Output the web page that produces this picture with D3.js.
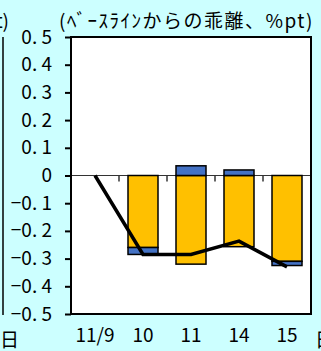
<!DOCTYPE html>
<html>
<head>
<meta charset="utf-8">
<script src="https://cdn.jsdelivr.net/npm/d3@7"></script>
<style>
  html, body { margin: 0; padding: 0; background: #ccffff; }
  svg { display: block; }
  text { font-family: "Noto Sans CJK JP", "Noto Sans", sans-serif; fill: #000; }
</style>
</head>
<body>
<svg id="chart" width="321" height="351"></svg>
<script>
// Deviation from baseline by day (%pt)
const days = ["11/9", "10", "11", "14", "15"];
const orangeValues = [0, -0.26, -0.32, -0.257, -0.31];
const blueValues = [0, -0.025, 0.035, 0.02, -0.015];
const totalValues = [0, -0.285, -0.285, -0.237, -0.33];
const yTicks = [0.5, 0.4, 0.3, 0.2, 0.1, 0, -0.1, -0.2, -0.3, -0.4, -0.5];
const yTickLabels = ["0. 5", "0. 4", "0. 3", "0. 2", "0. 1", "0", "−0. 1", "−0. 2", "−0. 3", "−0. 4", "−0. 5"];
const unitLabel = "(ﾍﾞｰｽﾗｲﾝからの乖離、%pt)";

const svg = d3.select("#chart");
const plot = { left: 71, right: 311, top: 37, bottom: 314 };

const x = d3.scaleBand().domain(days).range([plot.left, plot.right]).paddingInner(0).paddingOuter(0);
const y = d3.scaleLinear().domain([-0.5, 0.5]).range([plot.bottom, plot.top]);

// Pieces of the neighbouring panel at the left and right edges
svg.append("text").attr("x", 9).attr("y", 28).attr("text-anchor", "end")
  .attr("font-size", 19).text("t)");
svg.append("line").attr("x1", 3).attr("x2", 3).attr("y1", 37).attr("y2", 315)
  .attr("stroke", "#000").attr("stroke-width", 1.5);
svg.append("text").attr("x", 0).attr("y", 347).attr("font-size", 19).text("日");
svg.append("text").attr("x", 315).attr("y", 347).attr("font-size", 19).text("日");

// Plot background
svg.append("rect").attr("x", plot.left).attr("y", plot.top)
  .attr("width", plot.right - plot.left).attr("height", plot.bottom - plot.top)
  .attr("fill", "#fff");

// Unit label
svg.append("text").attr("x", 59).attr("y", 28).attr("font-size", 19)
  .attr("letter-spacing", 1.5).text(unitLabel);

// Zero line
svg.append("line").attr("x1", plot.left - 6).attr("x2", plot.right)
  .attr("y1", y(0)).attr("y2", y(0)).attr("stroke", "#333").attr("stroke-width", 1);

// Category tick marks hanging off the zero line
svg.append("g").selectAll("line").data(days.slice(1)).join("line")
  .attr("x1", d => x(d)).attr("x2", d => x(d))
  .attr("y1", y(0)).attr("y2", y(0) + 6)
  .attr("stroke", "#333").attr("stroke-width", 1.5);

// Stacked bars
const rows = days.map((d, i) => ({ day: d, orange: orangeValues[i], blue: blueValues[i] }));
const stack = d3.stack().keys(["orange", "blue"]).offset(d3.stackOffsetDiverging);
const series = stack(rows);
const colors = { orange: "#ffc000", blue: "#4472c4" };
const barW = x.bandwidth() * 0.625;

svg.append("g").selectAll("g").data(series).join("g")
  .attr("fill", s => colors[s.key])
  .selectAll("rect").data(s => s.filter(p => p[1] - p[0] !== 0)).join("rect")
  .attr("x", p => x(p.data.day) + (x.bandwidth() - barW) / 2)
  .attr("width", barW)
  .attr("y", p => y(Math.max(p[0], p[1])))
  .attr("height", p => Math.abs(y(p[0]) - y(p[1])))
  .attr("stroke", "#000").attr("stroke-width", 1.5);

// Total line
const line = d3.line().x((d, i) => x(days[i]) + x.bandwidth() / 2).y(d => y(d));
svg.append("path").datum(totalValues).attr("d", line)
  .attr("fill", "none").attr("stroke", "#000").attr("stroke-width", 3.5)
  .attr("stroke-linejoin", "miter");

// Plot frame
svg.append("rect").attr("x", plot.left).attr("y", plot.top)
  .attr("width", plot.right - plot.left).attr("height", plot.bottom - plot.top)
  .attr("fill", "none").attr("stroke", "#000").attr("stroke-width", 2);

// Y axis
const yAxis = d3.axisLeft(y).tickValues(yTicks).tickSize(6).tickPadding(13)
  .tickFormat((d, i) => yTickLabels[i]);
const gy = svg.append("g").attr("transform", `translate(${plot.left},0)`).call(yAxis);
gy.select(".domain").remove();
gy.selectAll(".tick line").attr("stroke", "#000").attr("stroke-width", 2);
gy.selectAll(".tick text").attr("font-size", 19).attr("font-family", "'Noto Sans CJK JP', sans-serif");

// X axis labels
const gx = svg.append("g").attr("transform", `translate(0,${plot.bottom})`)
  .call(d3.axisBottom(x).tickSize(0).tickPadding(15));
gx.select(".domain").remove();
gx.selectAll(".tick text").attr("font-size", 19).attr("font-family", "'Noto Sans CJK JP', sans-serif");
</script>
</body>
</html>
